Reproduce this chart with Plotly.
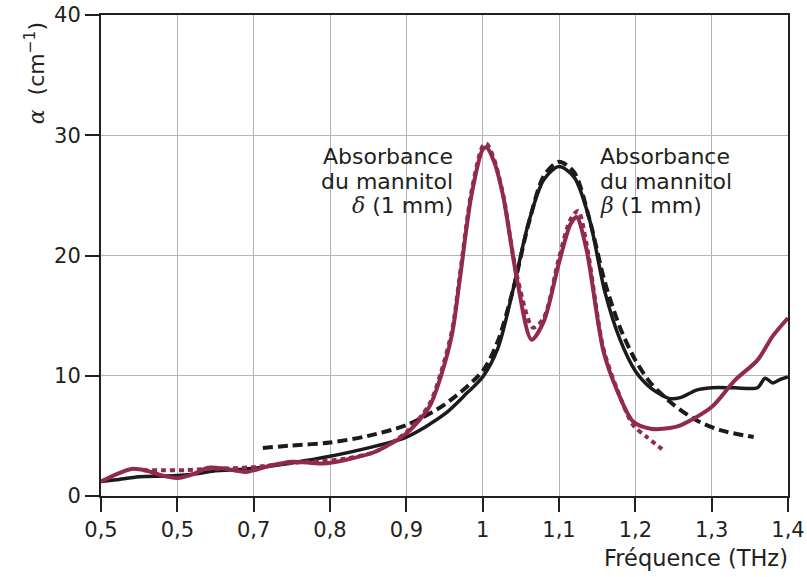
import plotly.graph_objects as go

# Mannitol absorption spectra (THz range)
beta_meas_x = [0.5, 0.52, 0.55, 0.58, 0.6, 0.63, 0.65, 0.68, 0.7, 0.75, 0.8, 0.85, 0.9, 0.95,
               0.98, 1.0, 1.02, 1.04, 1.06, 1.08, 1.1, 1.12, 1.14, 1.16, 1.18, 1.2, 1.22, 1.245,
               1.26, 1.28, 1.3, 1.33, 1.36, 1.37, 1.38, 1.39, 1.4]
beta_meas_y = [1.2, 1.35, 1.6, 1.65, 1.7, 1.9, 2.1, 2.2, 2.3, 2.75, 3.3, 4.0, 4.9, 6.8,
               8.6, 9.9, 12.3, 17.2, 22.7, 26.3, 27.4, 26.5, 23.0, 17.0, 13.0, 10.4, 9.0, 8.1,
               8.2, 8.8, 9.0, 9.0, 9.0, 9.8, 9.4, 9.7, 9.9]

beta_model_x = [0.712, 0.75, 0.8, 0.85, 0.9, 0.95, 1.0, 1.02, 1.04, 1.06, 1.08, 1.1, 1.12,
                1.14, 1.16, 1.18, 1.2, 1.22, 1.25, 1.28, 1.31, 1.355]
beta_model_y = [4.0, 4.2, 4.45, 5.0, 5.9, 7.6, 10.4, 12.9, 17.2, 22.6, 26.6, 27.8, 26.9,
                23.0, 17.8, 14.0, 11.3, 9.4, 7.6, 6.3, 5.5, 4.9]

delta_meas_x = [0.5, 0.52, 0.54, 0.56, 0.58, 0.6, 0.62, 0.64, 0.66, 0.69, 0.72, 0.75, 0.79,
                0.82, 0.86, 0.9, 0.93, 0.945, 0.96, 0.97, 0.985, 1.0, 1.005, 1.015, 1.027,
                1.045, 1.064, 1.08, 1.1, 1.115, 1.123, 1.136, 1.158, 1.176, 1.197, 1.22,
                1.245, 1.26, 1.3, 1.33, 1.36, 1.38, 1.4]
delta_meas_y = [1.2, 1.8, 2.25, 2.1, 1.7, 1.5, 1.8, 2.35, 2.3, 2.0, 2.5, 2.85, 2.7,
                3.0, 3.7, 5.2, 7.4, 9.9, 13.5, 18.0, 24.9, 28.8, 29.0, 27.8, 24.9,
                18.0, 13.0, 14.5, 19.4, 22.6, 23.2, 20.5, 12.1, 8.8, 6.2, 5.6,
                5.65, 5.9, 7.4, 9.6, 11.3, 13.3, 14.8]

delta_model_x = [0.555, 0.58, 0.61, 0.64, 0.67, 0.7, 0.75, 0.79, 0.82, 0.86, 0.9, 0.93,
                 0.945, 0.96, 0.97, 0.985, 1.0, 1.005, 1.015, 1.027, 1.045, 1.066, 1.08,
                 1.1, 1.115, 1.125, 1.136, 1.158, 1.176, 1.197, 1.215, 1.235]
delta_model_y = [2.15, 2.15, 2.15, 2.25, 2.3, 2.4, 2.75, 2.9, 3.1, 3.7, 5.3, 7.6,
                 10.2, 13.8, 18.3, 25.2, 29.1, 29.3, 28.0, 25.0, 18.3, 14.0, 14.8,
                 19.8, 23.0, 23.7, 21.0, 12.3, 8.9, 5.9, 4.9, 3.9]

x_tickvals = [0.5, 0.6, 0.7, 0.8, 0.9, 1.0, 1.1, 1.2, 1.3, 1.4]
x_ticktext = ["0,5", "0,5", "0,7", "0,8", "0,9", "1", "1,1", "1,2", "1,3", "1,4"]
y_tickvals = [0, 10, 20, 30, 40]

RED = "#922a4c"
BLACK = "#1c1a1b"
INK = "#231f20"
FONT = "DejaVu Sans"

fig = go.Figure()
fig.add_trace(go.Scatter(x=beta_meas_x, y=beta_meas_y, mode="lines",
                         line=dict(color=BLACK, width=3.5, shape="spline", smoothing=0.8)))
fig.add_trace(go.Scatter(x=beta_model_x, y=beta_model_y, mode="lines",
                         line=dict(color=BLACK, width=4, dash="10px,5px",
                                   shape="spline", smoothing=0.8)))
fig.add_trace(go.Scatter(x=delta_meas_x, y=delta_meas_y, mode="lines",
                         line=dict(color=RED, width=4, shape="spline", smoothing=0.8)))
fig.add_trace(go.Scatter(x=delta_model_x, y=delta_model_y, mode="lines",
                         line=dict(color=RED, width=4, dash="5px,4px",
                                   shape="spline", smoothing=0.8)))

axis_common = dict(showline=True, mirror=True, linecolor=INK, linewidth=2,
                   ticks="outside", ticklen=14, tickwidth=2, tickcolor=INK,
                   showgrid=True, gridcolor="#b4b4b4", gridwidth=1, zeroline=False,
                   automargin=False,
                   tickfont=dict(family=FONT, size=21, color=INK))

fig.update_xaxes(range=[0.5, 1.4], tickvals=x_tickvals, ticktext=x_ticktext, **axis_common)
fig.update_yaxes(range=[0, 40], tickvals=y_tickvals, **axis_common)

serif = "font-family:DejaVu Serif"
labels = [
    (0.964, "right", ["Absorbance", "du mannitol",
                      f"<span style='{serif}'><i>δ</i></span> (1 mm)"]),
    (1.151, "left", ["Absorbance", "du mannitol",
                     f"<span style='{serif}'><i>β</i></span> (1 mm)"]),
]
line_y = [28.2, 26.15, 24.2]
annotations = []
for xpos, anchor, lines in labels:
    for yv, txt in zip(line_y, lines):
        annotations.append(dict(x=xpos, y=yv, xref="x", yref="y", text=txt,
                                showarrow=False, xanchor=anchor, yanchor="middle",
                                font=dict(family=FONT, size=22, color=INK)))

annotations.append(dict(x=1.003, y=-0.129, xref="paper", yref="paper",
                        text="Fréquence (THz)", showarrow=False,
                        xanchor="right", yanchor="middle",
                        font=dict(family=FONT, size=22.5, color=INK)))
annotations.append(dict(x=-0.096, y=0.879, xref="paper", yref="paper",
                        text=f"<span style='{serif}'><i>α</i></span>  (cm<sup>−1</sup>)",
                        textangle=-90, showarrow=False,
                        xanchor="center", yanchor="middle",
                        font=dict(family=FONT, size=22, color=INK)))

fig.update_layout(width=807, height=577, showlegend=False,
                  margin=dict(l=101, r=19, t=15, b=81, autoexpand=False),
                  plot_bgcolor="white", paper_bgcolor="white",
                  annotations=annotations)

fig.write_html("out.html")
